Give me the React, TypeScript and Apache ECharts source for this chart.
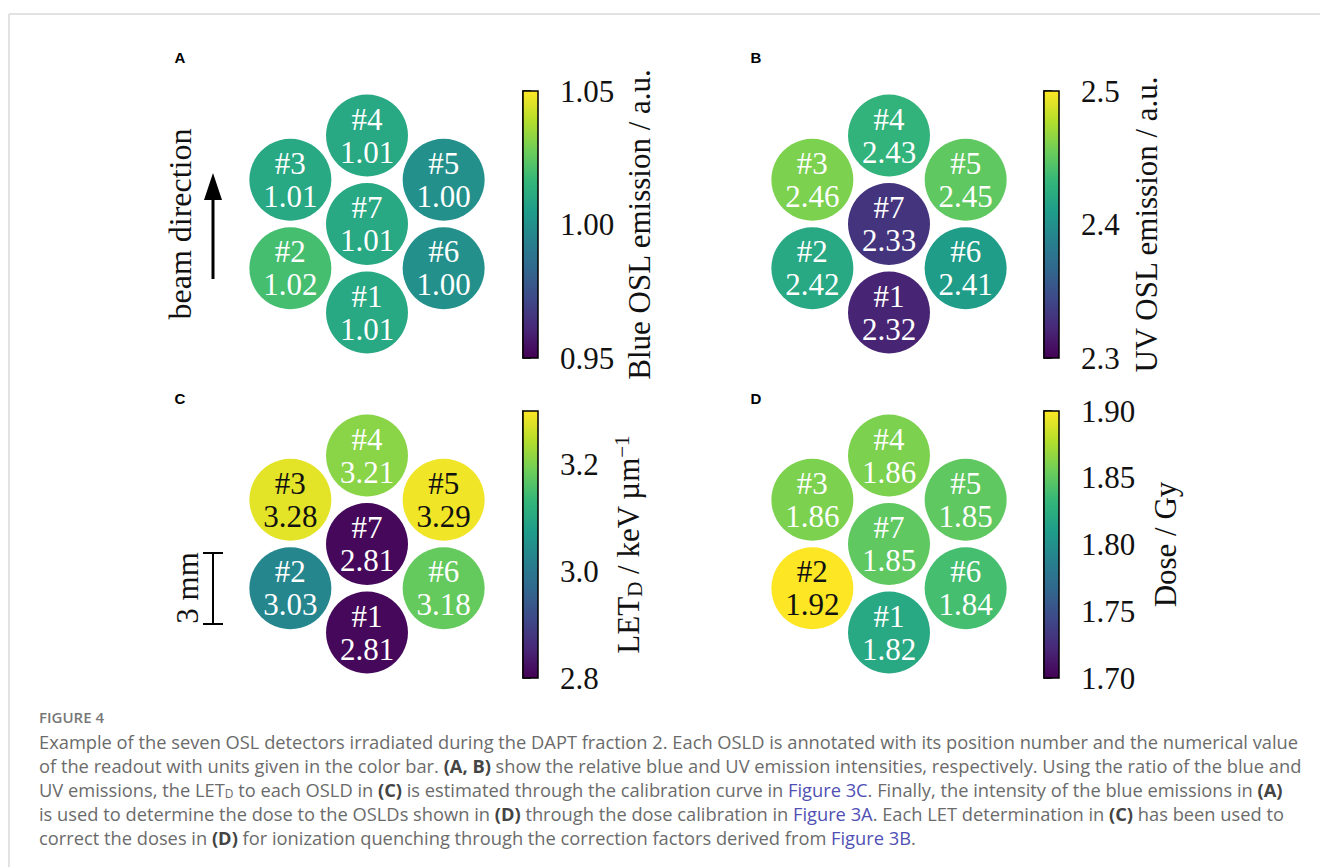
import React, { useEffect, useRef } from "react";
import * as echarts from "echarts";

// ---- data ----
const detectorIds = ["#1", "#2", "#3", "#4", "#5", "#6", "#7"];
// hexagonal detector layout (units of detector pitch)
const detectorX = [0, -0.866, -0.866, 0, 0.866, 0.866, 0];
const detectorY = [-1, -0.5, 0.5, 1, 0.5, -0.5, 0];

const blueOSL = [1.01, 1.02, 1.01, 1.01, 1.0, 1.0, 1.01];
const uvOSL = [2.32, 2.42, 2.46, 2.43, 2.45, 2.41, 2.33];
const letD = [2.81, 3.03, 3.28, 3.21, 3.29, 3.18, 2.81];
const dose = [1.82, 1.92, 1.86, 1.86, 1.85, 1.84, 1.85];

const blueRange = [0.95, 1.05];
const uvRange = [2.3, 2.5];
const letRange = [2.8, 3.3];
const doseRange = [1.7, 1.9];

const blueTicks = [0.95, 1.0, 1.05];
const uvTicks = [2.3, 2.4, 2.5];
const letTicks = [2.8, 3.0, 3.2];
const doseTicks = [1.7, 1.75, 1.8, 1.85, 1.9];

const viridis = [
  "#440154", "#482878", "#3e4989", "#31688e", "#26828e",
  "#1f9e89", "#35b779", "#6ece58", "#b5de2b", "#fde725",
];

const SERIF = "'Liberation Serif', 'DejaVu Serif', serif";
const SANS = "'Open Sans', 'Liberation Sans', sans-serif";

type Panel = {
  letter: string;
  values: number[];
  range: number[];
  ticks: number[];
  decimals: number;
  title: string;
  cx: number; // circle cluster centre (px)
  cy: number;
  barLeft: number;
  barTop: number;
  nameGap: number;
};

const panels: Panel[] = [
  { letter: "A", values: blueOSL, range: blueRange, ticks: blueTicks, decimals: 2,
    title: "Blue OSL emission / a.u.", cx: 367, cy: 224, barLeft: 523, barTop: 91, nameGap: 86 },
  { letter: "B", values: uvOSL, range: uvRange, ticks: uvTicks, decimals: 1,
    title: "UV OSL emission / a.u.", cx: 889, cy: 224, barLeft: 1044, barTop: 91, nameGap: 72 },
  { letter: "C", values: letD, range: letRange, ticks: letTicks, decimals: 1,
    title: "LET{sub|D} / keV\u2009µm{sup|\u22121}", cx: 367, cy: 544, barLeft: 523, barTop: 411, nameGap: 73 },
  { letter: "D", values: dose, range: doseRange, ticks: doseTicks, decimals: 2,
    title: "Dose / Gy", cx: 889, cy: 544, barLeft: 1044, barTop: 411, nameGap: 91 },
];

const PITCH = 88.5;
const BAR_W = 15;
const BAR_H = 267;

function buildOption() {
  const grid: any[] = [];
  const xAxis: any[] = [];
  const yAxis: any[] = [];
  const series: any[] = [];
  const visualMap: any[] = [];

  // circle grids
  panels.forEach((p, i) => {
    grid.push({ left: p.cx - 2 * PITCH, top: p.cy - 2 * PITCH, width: 4 * PITCH, height: 4 * PITCH });
    xAxis.push({ type: "value", gridIndex: i, min: -2, max: 2, show: false });
    yAxis.push({ type: "value", gridIndex: i, min: -2, max: 2, show: false });
    const [lo, hi] = p.range;
    series.push({
      type: "scatter",
      xAxisIndex: i,
      yAxisIndex: i,
      symbol: "circle",
      symbolSize: 82,
      silent: true,
      itemStyle: { opacity: 1 },
      data: p.values.map((v, k) => {
        const c = Math.min(hi, Math.max(lo, v));
        const t = (c - lo) / (hi - lo);
        return {
          value: [detectorX[k], detectorY[k], v, c],
          label: { color: t > 0.9 ? "#111" : "#ffffff" },
        };
      }),
      label: {
        show: true,
        position: "inside",
        fontFamily: SERIF,
        fontSize: 31,
        lineHeight: 33,
        formatter: (prm: any) => `${detectorIds[prm.dataIndex]}\n${prm.value[2].toFixed(2)}`,
      },
    });
    visualMap.push({
      type: "continuous",
      show: false,
      seriesIndex: i,
      dimension: 3,
      min: lo,
      max: hi,
      inRange: { color: viridis },
    });
  });

  // colour bars
  panels.forEach((p, i) => {
    const gi = 4 + i;
    const [lo, hi] = p.range;
    grid.push({ left: p.barLeft, top: p.barTop, width: BAR_W, height: BAR_H });
    xAxis.push({ type: "value", gridIndex: gi, min: 0, max: 1, show: false });
    yAxis.push({
      type: "value",
      gridIndex: gi,
      position: "right",
      min: lo,
      max: hi,
      splitLine: { show: false },
      axisLine: { show: true, lineStyle: { color: "#000", width: 1.5 } },
      axisTick: { show: true, inside: false, length: 8, lineStyle: { color: "#000", width: 1.5 }, customValues: p.ticks },
      axisLabel: {
        show: true,
        customValues: p.ticks,
        margin: 22,
        fontFamily: SERIF,
        fontSize: 31,
        color: "#111",
        formatter: (v: number) => v.toFixed(p.decimals),
      },
      name: p.title,
      nameLocation: "middle",
      nameRotate: 90,
      nameGap: p.nameGap,
      nameTextStyle: {
        fontFamily: SERIF,
        fontSize: 31,
        color: "#111",
        rich: {
          sub: { fontFamily: SERIF, fontSize: 21, color: "#111", padding: [12, 0, 0, 0] },
          sup: { fontFamily: SERIF, fontSize: 21, color: "#111", padding: [0, 0, 14, 0] },
        },
      },
    });
    const stops = viridis.map((c, k) => ({ offset: k / (viridis.length - 1), color: c }));
    series.push({
      type: "custom",
      xAxisIndex: gi,
      yAxisIndex: gi,
      silent: true,
      clip: false,
      data: [[0, lo, 1, hi]],
      renderItem: (params: any, api: any) => {
        const p0 = api.coord([api.value(0), api.value(1)]);
        const p1 = api.coord([api.value(2), api.value(3)]);
        return {
          type: "rect",
          shape: { x: p0[0], y: p1[1], width: p1[0] - p0[0], height: p0[1] - p1[1] },
          style: {
            fill: new echarts.graphic.LinearGradient(0, 1, 0, 0, stops),
            stroke: "#000",
            lineWidth: 1.5,
          },
        };
      },
    });
  });

  const letterPos = [
    [180, 57], [756, 57], [180, 398], [756, 398],
  ];

  const CAP_FS = 18.3;
  const captionBase = { fontFamily: SANS, fontSize: CAP_FS, fill: "#6b6b6b" };
  const rich = {
    b: { fontFamily: SANS, fontSize: CAP_FS, fontWeight: "bold", fill: "#444" },
    l: { fontFamily: SANS, fontSize: CAP_FS, fill: "#5050b4" },
    sub: { fontFamily: SANS, fontSize: 12, fill: "#6b6b6b", padding: [8, 0, 0, 0] },
  };
  const captionLines = [
    "Example of the seven OSL detectors irradiated during the DAPT fraction 2. Each OSLD is annotated with its position number and the numerical value",
    "of the readout with units given in the color bar. {b|(A, B)} show the relative blue and UV emission intensities, respectively. Using the ratio of the blue and",
    "UV emissions, the LET{sub|D} to each OSLD in {b|(C)} is estimated through the calibration curve in {l|Figure 3C}. Finally, the intensity of the blue emissions in {b|(A)}",
    "is used to determine the dose to the OSLDs shown in {b|(D)} through the dose calibration in {l|Figure 3A}. Each LET determination in {b|(C)} has been used to",
    "correct the doses in {b|(D)} for ionization quenching through the correction factors derived from {l|Figure 3B}.",
  ];
  const captionY = [741, 765, 789, 813, 837];

  const graphic: any[] = [
    // page frame
    { type: "line", silent: true, shape: { x1: 9, y1: 14, x2: 1320, y2: 14 }, style: { stroke: "#d9d9d9", lineWidth: 1.5 } },
    { type: "line", silent: true, shape: { x1: 9, y1: 14, x2: 9, y2: 867 }, style: { stroke: "#d9d9d9", lineWidth: 1.5 } },
    // panel letters
    ...panels.map((p, i) => ({
      type: "text",
      silent: true,
      x: letterPos[i][0],
      y: letterPos[i][1],
      style: {
        text: p.letter,
        fontFamily: "'Liberation Sans', Arial, sans-serif",
        fontWeight: "bold",
        fontSize: 15,
        fill: "#000",
        align: "center",
        verticalAlign: "middle",
      },
    })),
    // beam direction
    {
      type: "text", silent: true, x: 180, y: 224, rotation: Math.PI / 2,
      style: { text: "beam direction", fontFamily: SERIF, fontSize: 32, fill: "#111", align: "center", verticalAlign: "middle" },
    },
    { type: "line", silent: true, shape: { x1: 213, y1: 279, x2: 213, y2: 196 }, style: { stroke: "#000", lineWidth: 3 } },
    { type: "polygon", silent: true, shape: { points: [[204, 200], [222, 200], [213, 173]] }, style: { fill: "#000" } },
    // scale bar
    {
      type: "text", silent: true, x: 187, y: 588, rotation: Math.PI / 2,
      style: { text: "3 mm", fontFamily: SERIF, fontSize: 31, fill: "#111", align: "center", verticalAlign: "middle" },
    },
    { type: "line", silent: true, shape: { x1: 213, y1: 553, x2: 213, y2: 624 }, style: { stroke: "#000", lineWidth: 2 } },
    { type: "line", silent: true, shape: { x1: 203, y1: 553, x2: 223, y2: 553 }, style: { stroke: "#000", lineWidth: 2 } },
    { type: "line", silent: true, shape: { x1: 203, y1: 624, x2: 223, y2: 624 }, style: { stroke: "#000", lineWidth: 2 } },
    // caption
    {
      type: "text", silent: true, x: 39, y: 717,
      style: { text: "FIGURE 4", fontFamily: SANS, fontSize: 15, fontWeight: 600, fill: "#777", verticalAlign: "middle" },
    },
    ...captionLines.map((t, i) => ({
      type: "text",
      silent: true,
      x: 39,
      y: captionY[i],
      style: { ...captionBase, text: t, rich, verticalAlign: "middle" },
    })),
  ];

  return {
    animation: false,
    backgroundColor: "#ffffff",
    grid,
    xAxis,
    yAxis,
    visualMap,
    series,
    graphic,
  };
}

export default function App() {
  const ref = useRef<HTMLDivElement>(null);
  useEffect(() => {
    if (!ref.current) return;
    const chart = echarts.init(ref.current, undefined, { renderer: "svg" });
    chart.setOption(buildOption());
    return () => chart.dispose();
  }, []);
  return (
    <div
      ref={ref}
      style={{ position: "absolute", left: 0, top: 0, width: 1320, height: 867 }}
    />
  );
}
